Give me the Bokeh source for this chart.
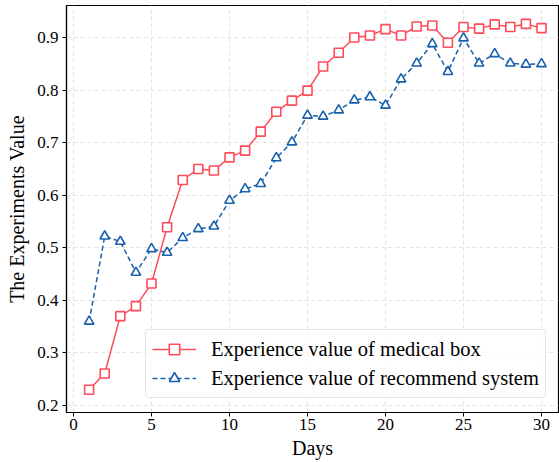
from bokeh.plotting import figure
from bokeh.models import Range1d, FixedTicker, Legend, LegendItem, CustomJSTickFormatter
from bokeh.embed import file_html
from bokeh.resources import INLINE

days = list(range(1, 31))
medical_box = [0.230, 0.261, 0.370, 0.389, 0.432, 0.539, 0.629, 0.650, 0.647, 0.672,
               0.685, 0.721, 0.759, 0.780, 0.799, 0.845, 0.871, 0.900, 0.904, 0.916,
               0.904, 0.921, 0.923, 0.890, 0.920, 0.917, 0.925, 0.920, 0.926, 0.918]
recommend_system = [0.360, 0.522, 0.512, 0.453, 0.498, 0.491, 0.519, 0.536, 0.541, 0.590,
                    0.612, 0.622, 0.671, 0.701, 0.752, 0.750, 0.762, 0.781, 0.787, 0.771,
                    0.821, 0.851, 0.888, 0.835, 0.899, 0.851, 0.869, 0.851, 0.849, 0.850]
x_ticks = [0, 5, 10, 15, 20, 25, 30]
y_ticks = [0.2, 0.3, 0.4, 0.5, 0.6, 0.7, 0.8, 0.9]
label_medical = "Experience value of medical box"
label_recommend = "Experience value of recommend system"

RED = "#ff4b5a"
BLUE = "#1860ab"
FONT = "Liberation Serif"

p = figure(width=559, height=462, output_backend="svg", toolbar_location=None,
           x_range=Range1d(-0.45, 31.09), y_range=Range1d(0.1867, 0.961),
           min_border_left=66, min_border_right=1, min_border_top=5, min_border_bottom=50)

p.outline_line_color = "black"
p.outline_line_width = 1.2

for ax in (p.xaxis[0], p.yaxis[0]):
    ax.major_label_text_font = FONT
    ax.major_label_text_font_size = "17px"
    ax.major_label_text_color = "black"
    ax.axis_label_text_font = FONT
    ax.axis_label_text_font_size = "20px"
    ax.axis_label_text_font_style = "normal"
    ax.axis_label_text_color = "black"
    ax.axis_line_color = "black"
    ax.axis_line_width = 1.2
    ax.major_tick_line_color = "black"
    ax.major_tick_in = 0
    ax.major_tick_out = 4
    ax.minor_tick_line_color = None

p.xaxis.ticker = FixedTicker(ticks=x_ticks)
p.yaxis.ticker = FixedTicker(ticks=y_ticks)
p.yaxis.formatter = CustomJSTickFormatter(code="return tick.toFixed(1);")
p.xaxis.axis_label = "Days"
p.yaxis.axis_label = "The Experiments Value"
p.xaxis.axis_label_standoff = 4
p.yaxis.axis_label_standoff = 6
p.xaxis.major_label_standoff = 2
p.yaxis.major_label_standoff = 4

for g in (p.xgrid[0], p.ygrid[0]):
    g.grid_line_color = "#e3e3e3"
    g.grid_line_dash = "4 3"
    g.grid_line_width = 1.2

l1 = p.line(days, medical_box, line_color=RED, line_width=1.5)
s1 = p.scatter(days, medical_box, marker="square", size=9, fill_color="white",
               line_color=RED, line_width=1.6)
l2 = p.line(days, recommend_system, line_color=BLUE, line_width=1.5, line_dash="5 3")
s2 = p.scatter(days, recommend_system, marker="triangle", size=9.5, fill_color="white",
               line_color=BLUE, line_width=1.6)

legend = Legend(items=[LegendItem(label=label_medical, renderers=[l1, s1]),
                       LegendItem(label=label_recommend, renderers=[l2, s2])],
                location=(79, 14))
legend.label_text_font = FONT
legend.label_text_font_size = "20.5px"
legend.label_text_color = "black"
legend.glyph_width = 44
legend.glyph_height = 26
legend.label_standoff = 15
legend.label_height = 26
legend.spacing = 3
legend.padding = 6
legend.margin = 0
legend.border_line_color = "#cccccc"
legend.border_line_width = 1
legend.background_fill_alpha = 0.8
legend.border_radius = 4
p.add_layout(legend, "center")

open("out.html", "w").write(file_html(p, INLINE))
